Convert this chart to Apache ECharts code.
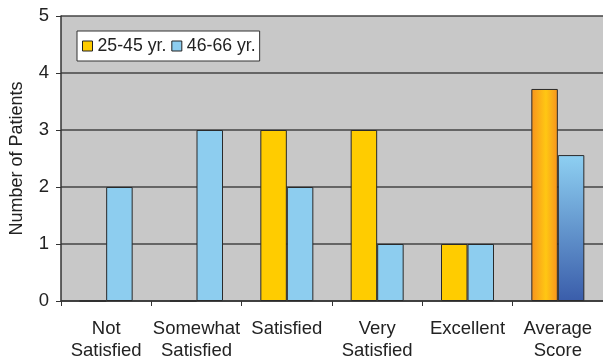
<!DOCTYPE html>
<html>
<head>
<meta charset="utf-8">
<script src="https://cdn.jsdelivr.net/npm/echarts@6/dist/echarts.min.js"></script>
<style>
  html, body { margin: 0; padding: 0; background: #ffffff; }
  #chart { width: 603px; height: 362px; }
</style>
</head>
<body>
<div id="chart"></div>
<script>
// Patient satisfaction by age group
const categories = ['Not\nSatisfied', 'Somewhat\nSatisfied', 'Satisfied', 'Very\nSatisfied', 'Excellent', 'Average\nScore'];
const groupNames = ['25-45 yr.', '46-66 yr.'];
const youngerCounts = [0, 0, 3, 3, 1, 3.72];
const olderCounts = [2, 3, 2, 1, 1, 2.56];
const yTicks = [0, 1, 2, 3, 4, 5];

const FONT = '"Liberation Sans", Arial, Helvetica, sans-serif';
const YELLOW = '#FFCC00';
const SKY = '#8DCDEF';

// the last category (average score) uses shaded fills
const orangeShade = new echarts.graphic.LinearGradient(0, 0, 1, 0, [
  { offset: 0, color: '#F7931E' },
  { offset: 0.55, color: '#FFC713' },
  { offset: 1, color: '#F7931E' }
]);
const blueShade = new echarts.graphic.LinearGradient(0, 0, 0, 1, [
  { offset: 0, color: '#8ED0F2' },
  { offset: 1, color: '#3A5DAA' }
]);

function buildData(values, lastFill) {
  return values.map((v, i) => i === values.length - 1
    ? { value: v, itemStyle: { color: lastFill } }
    : v);
}

const chart = echarts.init(document.getElementById('chart'), null, { renderer: 'canvas' });
chart.setOption({
  animation: false,
  backgroundColor: '#ffffff',
  textStyle: { fontFamily: FONT },
  grid: {
    left: 59, top: 16, width: 547, height: 286.5,
    show: true, backgroundColor: '#C8C8C8', borderWidth: 0
  },
  legend: {
    left: 77, top: 31,
    backgroundColor: '#ffffff',
    borderColor: '#333333', borderWidth: 1,
    padding: [6, 4, 6, 5],
    itemWidth: 10, itemHeight: 10, itemGap: 5,
    textStyle: { fontFamily: FONT, fontSize: 17.7, color: '#222222' },
    data: [
      { name: groupNames[0], icon: 'rect', itemStyle: { color: YELLOW, borderColor: '#222', borderWidth: 1 } },
      { name: groupNames[1], icon: 'rect', itemStyle: { color: SKY, borderColor: '#222', borderWidth: 1 } }
    ]
  },
  xAxis: {
    type: 'category',
    data: categories,
    axisLine: { show: true, lineStyle: { color: '#333333', width: 1.5 } },
    axisTick: { show: true, alignWithLabel: false, length: 5, lineStyle: { color: '#333333' } },
    axisLabel: {
      fontFamily: FONT, fontSize: 18.5, color: '#222222',
      margin: 17, lineHeight: 22, interval: 0
    }
  },
  yAxis: {
    type: 'value',
    min: yTicks[0], max: yTicks[yTicks.length - 1], interval: 1,
    name: 'Number of Patients',
    nameLocation: 'middle', nameGap: 35,
    nameTextStyle: { fontFamily: FONT, fontSize: 18, color: '#222222' },
    axisLine: { show: true, lineStyle: { color: '#333333', width: 1.5 } },
    axisTick: { show: true, length: 5, lineStyle: { color: '#333333' } },
    axisLabel: { fontFamily: FONT, fontSize: 18.5, color: '#222222', margin: 12 },
    splitLine: { show: true, lineStyle: { color: '#444444', width: 1.5 } }
  },
  series: [
    {
      name: groupNames[0], type: 'bar',
      data: buildData(youngerCounts, orangeShade),
      barWidth: 26.5, barGap: '0%',
      itemStyle: { color: YELLOW, borderColor: '#2a2a2a', borderWidth: 1 }
    },
    {
      name: groupNames[1], type: 'bar',
      data: buildData(olderCounts, blueShade),
      barWidth: 26.5, barGap: '0%',
      itemStyle: { color: SKY, borderColor: '#2a2a2a', borderWidth: 1 }
    }
  ]
});
</script>
</body>
</html>
